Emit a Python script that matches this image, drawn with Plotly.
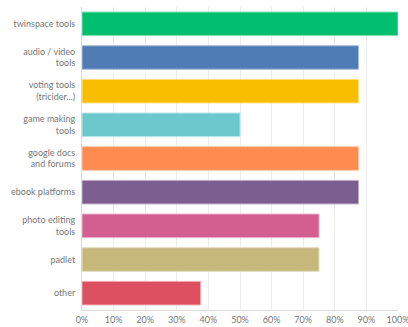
import plotly.graph_objects as go

# survey answers (share of respondents, %)
labels = [
    "twinspace tools",
    "audio / video<br>tools",
    "voting tools<br>(tricider...)",
    "game making<br>tools",
    "google docs<br>and forums",
    "ebook platforms",
    "photo editing<br>tools",
    "padlet",
    "other",
]
values = [100, 87.5, 87.5, 50, 87.5, 87.5, 75, 75, 37.5]
colors = ["#00BF6F", "#507CB6", "#F9BE00", "#6BC8CD", "#FF8B4F",
          "#7D5E90", "#D25F90", "#C6B77B", "#DC5061"]
edges = ["#7fe0b7", "#a8bede", "#fcdf80", "#b5e4e6", "#ffc5a7",
         "#beaec7", "#e9afc8", "#e3dbbd", "#eea8b0"]

fig = go.Figure(go.Bar(
    x=values,
    y=labels,
    orientation="h",
    marker=dict(color=colors, line=dict(color=edges, width=1)),
    hoverinfo="x+y",
))

fig.update_layout(
    width=408,
    height=327,
    margin=dict(l=82, r=10, t=7, b=17, autoexpand=False),
    paper_bgcolor="white",
    plot_bgcolor="white",
    font=dict(family="Lato, Open Sans, sans-serif", size=9, color="#777777"),
    bargap=0.3,
    showlegend=False,
    xaxis=dict(
        range=[0, 100],
        dtick=10,
        ticksuffix="%",
        showgrid=True,
        gridcolor="#ededed",
        gridwidth=1,
        zeroline=False,
        showline=True,
        linecolor="#dcdcdc",
        ticks="",
        ticklabelstandoff=1,
        ticklabeloverflow="allow",
        automargin=False,
        fixedrange=True,
    ),
    yaxis=dict(
        autorange="reversed",
        showgrid=False,
        showline=True,
        linecolor="#dcdcdc",
        ticks="",
        ticklabelstandoff=4,
        automargin=False,
        fixedrange=True,
    ),
)

# drop the default page margin so the chart sits flush in the window
fig.write_html("out.html", post_script="document.body.style.margin='0';",
               config={"displayModeBar": False})
